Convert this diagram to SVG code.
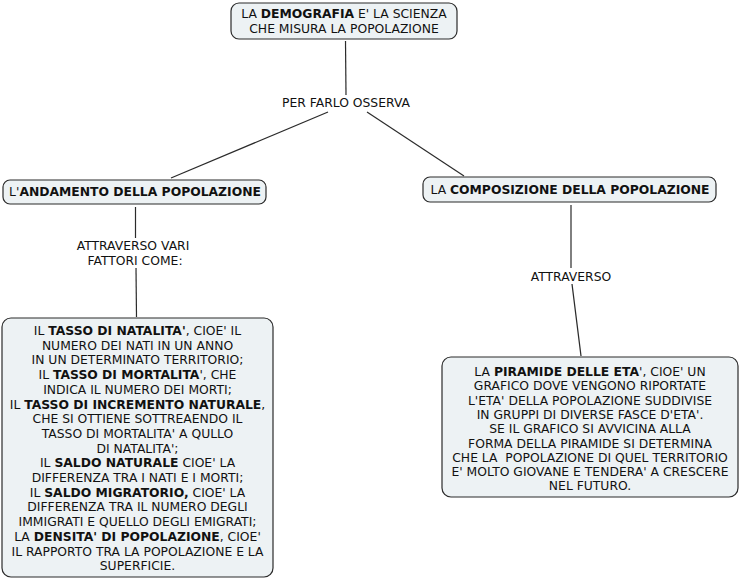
<svg xmlns="http://www.w3.org/2000/svg" width="741" height="579" viewBox="0 0 741 579">
<style>
.box{fill:#edf2f4;stroke:#2b2b2b;stroke-width:1.2}
.t{font-family:"DejaVu Sans","Liberation Sans",sans-serif;font-size:12.35px;fill:#111;text-anchor:middle;white-space:pre}
.b{font-weight:bold}
.c{stroke:#2b2b2b;stroke-width:1.2;fill:none}
</style>
<rect width="741" height="579" fill="#fff"/>
<g id="connectors">
<line class="c" x1="345.5" y1="41" x2="346" y2="95"/>
<line class="c" x1="328" y1="112" x2="171" y2="178"/>
<line class="c" x1="367" y1="112" x2="464" y2="176"/>
<line class="c" x1="135.5" y1="207" x2="135.5" y2="238"/>
<line class="c" x1="136" y1="268" x2="136.5" y2="317"/>
<line class="c" x1="571" y1="205" x2="571" y2="268"/>
<line class="c" x1="572" y1="284" x2="581" y2="356"/>
<text class="t" x="346" y="107">PER FARLO OSSERVA</text>
<text class="t" x="133" y="250">ATTRAVERSO VARI</text>
<text class="t" x="135" y="265">FATTORI COME:</text>
<text class="t" x="571" y="281">ATTRAVERSO</text>
</g>
<g id="node-demografia">
<rect class="box" x="231" y="3" width="226" height="36" rx="8"/>
<text class="t" x="344" y="18">LA <tspan class="b">DEMOGRAFIA</tspan> E' LA SCIENZA</text>
<text class="t" x="344" y="33">CHE MISURA LA POPOLAZIONE</text>
</g>
<g id="node-andamento">
<rect class="box" x="3" y="180" width="263" height="24" rx="7"/>
<text class="t" x="135" y="196">L'<tspan class="b">ANDAMENTO DELLA POPOLAZIONE</tspan></text>
</g>
<g id="node-composizione">
<rect class="box" x="423" y="177" width="293" height="25" rx="7"/>
<text class="t" x="570" y="194">LA <tspan class="b">COMPOSIZIONE DELLA POPOLAZIONE</tspan></text>
</g>
<g id="node-fattori">
<rect class="box" x="2" y="318" width="271" height="259" rx="9"/>
<text class="t" x="137.5" y="335">IL <tspan class="b">TASSO DI NATALITA'</tspan>, CIOE' IL</text>
<text class="t" x="137.5" y="349.7">NUMERO DEI NATI IN UN ANNO</text>
<text class="t" x="137.5" y="364.4">IN UN DETERMINATO TERRITORIO;</text>
<text class="t" x="137.5" y="379.1">IL <tspan class="b">TASSO DI MORTALITA</tspan>', CHE</text>
<text class="t" x="137.5" y="393.8">INDICA IL NUMERO DEI MORTI;</text>
<text class="t" x="137.5" y="408.5">IL <tspan class="b">TASSO DI INCREMENTO NATURALE</tspan>,</text>
<text class="t" x="137.5" y="423.2">CHE SI OTTIENE SOTTREAENDO IL</text>
<text class="t" x="137.5" y="437.9">TASSO DI MORTALITA' A QULLO</text>
<text class="t" x="137.5" y="452.6">DI NATALITA';</text>
<text class="t" x="137.5" y="467.3">IL <tspan class="b">SALDO NATURALE</tspan> CIOE' LA</text>
<text class="t" x="137.5" y="482">DIFFERENZA TRA I NATI E I MORTI;</text>
<text class="t" x="137.5" y="496.7">IL <tspan class="b">SALDO MIGRATORIO,</tspan> CIOE' LA</text>
<text class="t" x="137.5" y="511.4">DIFFERENZA TRA IL NUMERO DEGLI</text>
<text class="t" x="137.5" y="526.1">IMMIGRATI E QUELLO DEGLI EMIGRATI;</text>
<text class="t" x="137.5" y="540.8">LA <tspan class="b">DENSITA' DI POPOLAZIONE</tspan>, CIOE'</text>
<text class="t" x="137.5" y="555.5">IL RAPPORTO TRA LA POPOLAZIONE E LA</text>
<text class="t" x="137.5" y="570.2">SUPERFICIE.</text>
</g>
<g id="node-piramide">
<rect class="box" x="442" y="357" width="296" height="140" rx="9"/>
<text class="t" x="590" y="376">LA <tspan class="b">PIRAMIDE DELLE ETA</tspan>', CIOE' UN</text>
<text class="t" x="590" y="390.3">GRAFICO DOVE VENGONO RIPORTATE</text>
<text class="t" x="590" y="404.6">L'ETA' DELLA POPOLAZIONE SUDDIVISE</text>
<text class="t" x="590" y="418.9">IN GRUPPI DI DIVERSE FASCE D'ETA'.</text>
<text class="t" x="590" y="433.2">SE IL GRAFICO SI AVVICINA ALLA</text>
<text class="t" x="590" y="447.5">FORMA DELLA PIRAMIDE SI DETERMINA</text>
<text class="t" x="590" y="461.8">CHE LA  POPOLAZIONE DI QUEL TERRITORIO</text>
<text class="t" x="590" y="476.1">E' MOLTO GIOVANE E TENDERA' A CRESCERE</text>
<text class="t" x="590" y="490.4">NEL FUTURO.</text>
</g>
</svg>
